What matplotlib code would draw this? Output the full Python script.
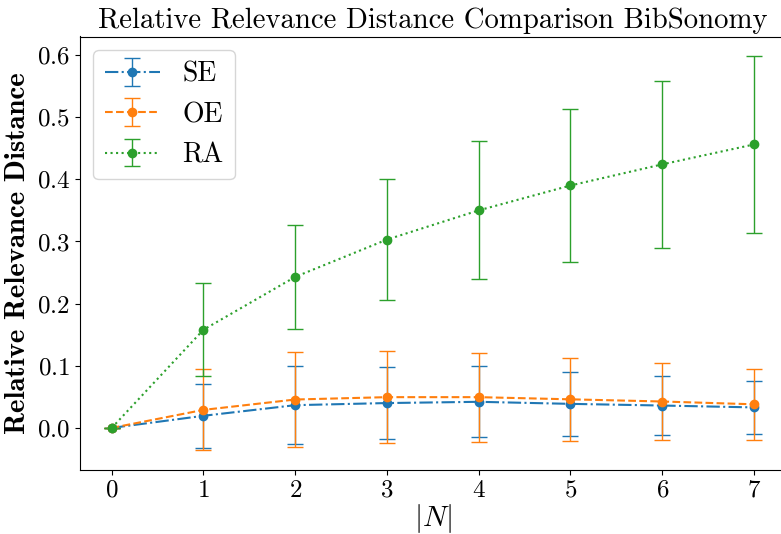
import matplotlib
matplotlib.use("Agg")
import matplotlib.pyplot as plt

# |N| values
n_vals = [0, 1, 2, 3, 4, 5, 6, 7]

# SE
se_mean = [0.0, 0.0195, 0.0366, 0.0400, 0.0420, 0.0387, 0.0360, 0.0330]
se_std = [0.0, 0.0515, 0.0625, 0.0575, 0.0570, 0.0510, 0.0470, 0.0430]
# OE
oe_mean = [0.0, 0.0290, 0.0457, 0.0495, 0.0495, 0.0460, 0.0425, 0.0380]
oe_std = [0.0, 0.0650, 0.0765, 0.0745, 0.0718, 0.0665, 0.0615, 0.0570]
# RA
ra_mean = [0.0, 0.158, 0.243, 0.303, 0.350, 0.390, 0.424, 0.456]
ra_std = [0.0, 0.075, 0.084, 0.097, 0.111, 0.123, 0.134, 0.142]

plt.rcParams["font.family"] = "serif"
plt.rcParams["font.serif"] = ["cmr10"]
plt.rcParams["mathtext.fontset"] = "cm"
plt.rcParams["axes.unicode_minus"] = False
plt.rcParams["axes.formatter.use_mathtext"] = True

fig = plt.figure(figsize=(7.81, 5.34), dpi=100)
# axes box runs past the right edge, as in the cropped original
ax = fig.add_axes([79.6 / 781, (534 - 470) / 534, (786.1 - 79.6) / 781, (470 - 36.5) / 534])

kw = dict(marker="o", markersize=6, capsize=6, elinewidth=1, capthick=1)
ax.errorbar(n_vals, se_mean, yerr=se_std, linestyle="-.", color="C0", label="SE", **kw)
ax.errorbar(n_vals, oe_mean, yerr=oe_std, linestyle="--", color="C1", label="OE", **kw)
ax.errorbar(n_vals, ra_mean, yerr=ra_std, linestyle=":", color="C2", label="RA", **kw)

ax.set_title("Relative Relevance Distance Comparison BibSonomy", fontsize=20.7)
ax.set_xlabel(r"$|N|$", fontsize=21, labelpad=0)
ax.set_ylabel("Relative Relevance Distance", fontsize=20.8, family="cmb10")
ax.tick_params(labelsize=18)
ax.legend(loc="upper left", fontsize=20)

fig.savefig("out.png", dpi=100)
